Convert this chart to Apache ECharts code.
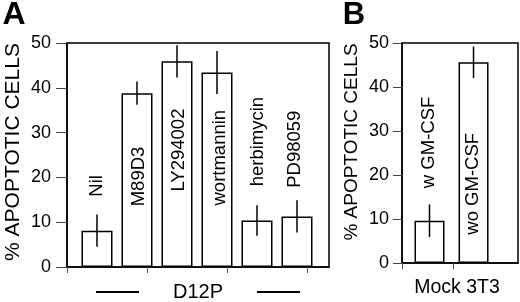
<!DOCTYPE html>
<html>
<head>
<meta charset="utf-8">
<script src="https://cdn.jsdelivr.net/npm/echarts@6/dist/echarts.min.js"></script>
<style>
html,body{margin:0;padding:0;background:#fff;}
#chart{width:520px;height:302px;}
</style>
</head>
<body>
<div id="chart"></div>
<script>
// ---- data ----
const catsA = ['Nil', 'M89D3', 'LY294002', 'wortmannin', 'herbimycin', 'PD98059'];
const valsA = [8.1, 38.8, 45.9, 43.4, 10.4, 11.3];
const errA = [3.6, 2.6, 3.6, 4.8, 3.4, 3.6];
const catsB = ['w GM-CSF', 'wo GM-CSF'];
const valsB = [9.6, 45.6];
const errB = [3.7, 3.6];
const yTicks = [0, 10, 20, 30, 40, 50];
const yTitle = '% APOPTOTIC CELLS';
const groupA = 'D12P';
const groupB = 'Mock 3T3';
const panelA = 'A';
const panelB = 'B';

// ---- layout (label centre heights, in axis units; small x nudges in px) ----
const labelMidA = [18.1, 20.2, 26.1, 24.4, 28.0, 26.3];
const labelDxA = [0, 2, 2, 3, 1, -2];
const labelMidB = [27.4, 18.0];
const labelDxB = [-1, -1];

const FONT = '"Liberation Sans", Arial, Helvetica, sans-serif';
const chart = echarts.init(document.getElementById('chart'), null, {renderer: 'canvas'});

function makeErr(vals, errs) {
  return function (params, api) {
    const i = params.dataIndex;
    const lo = api.coord([i, vals[i] - errs[i]]);
    const hi = api.coord([i, vals[i] + errs[i]]);
    return {
      type: 'line',
      shape: {x1: lo[0], y1: lo[1], x2: hi[0], y2: hi[1]},
      style: {stroke: '#000', lineWidth: 1.5}
    };
  };
}

function yAxisCfg(gridIndex, margin, tickLen) {
  return {
    type: 'value', gridIndex: gridIndex, min: 0, max: 50, interval: 10,
    axisLine: {show: true, onZero: false, lineStyle: {color: '#000', width: 1.5}},
    axisTick: {show: true, length: tickLen, lineStyle: {color: '#444', width: 1}},
    axisLabel: {show: true, margin: margin, fontSize: 18, color: '#000', fontFamily: FONT,
      formatter: v => yTicks.indexOf(v) >= 0 ? String(v) : ''},
    splitLine: {show: false}
  };
}

const option = {
  animation: false,
  backgroundColor: '#fff',
  grid: [
    {left: 67, top: 43, width: 262, height: 224, show: true, borderColor: '#000', borderWidth: 1.5, backgroundColor: 'transparent'},
    {left: 402, top: 43, width: 116, height: 220, show: true, borderColor: '#000', borderWidth: 1.5, backgroundColor: 'transparent'}
  ],
  xAxis: [
    {type: 'value', gridIndex: 0, min: -0.75, max: 5.8,
      axisLine: {show: true, onZero: false, lineStyle: {color: '#000', width: 1.5}},
      axisTick: {show: true, length: 6, lineStyle: {color: '#555'}, customValues: [-0.75, 1.25, 3.25, 5.25]},
      axisLabel: {show: false}, splitLine: {show: false}},
    {type: 'value', gridIndex: 1, min: -0.625, max: 2.01,
      axisLine: {show: true, onZero: false, lineStyle: {color: '#000', width: 1.5}},
      axisTick: {show: true, length: 6, lineStyle: {color: '#555'}, customValues: [-0.625, 0.55]},
      axisLabel: {show: false}, splitLine: {show: false}}
  ],
  yAxis: [yAxisCfg(0, 16, 11), yAxisCfg(1, 13, 9)],
  series: [
    {type: 'bar', xAxisIndex: 0, yAxisIndex: 0, barWidth: 31,
      data: valsA.map((v, i) => [i, v]),
      itemStyle: {color: '#fff', borderColor: '#000', borderWidth: 1.5}},
    {type: 'custom', xAxisIndex: 0, yAxisIndex: 0, renderItem: makeErr(valsA, errA), z: 5,
      data: valsA.map((v, i) => [i, v])},
    {type: 'bar', xAxisIndex: 1, yAxisIndex: 1, barWidth: 30,
      data: valsB.map((v, i) => [i, v]),
      itemStyle: {color: '#fff', borderColor: '#000', borderWidth: 1.5}},
    {type: 'custom', xAxisIndex: 1, yAxisIndex: 1, renderItem: makeErr(valsB, errB), z: 5,
      data: valsB.map((v, i) => [i, v])}
  ],
  graphic: [
    {type: 'text', x: 14, y: 15, style: {text: panelA, font: 'bold 32px ' + FONT, fill: '#000', align: 'center', verticalAlign: 'middle'}},
    {type: 'text', x: 354, y: 15, style: {text: panelB, font: 'bold 31px ' + FONT, fill: '#000', align: 'center', verticalAlign: 'middle'}},
    {type: 'text', x: 13, y: 152, rotation: Math.PI / 2, style: {text: yTitle, font: '21px ' + FONT, fill: '#000', align: 'center', verticalAlign: 'middle'}},
    {type: 'text', x: 352, y: 142, rotation: Math.PI / 2, style: {text: yTitle, font: '19px ' + FONT, fill: '#000', align: 'center', verticalAlign: 'middle'}},
    {type: 'text', x: 198, y: 292, style: {text: groupA, font: '20px ' + FONT, fill: '#000', align: 'center', verticalAlign: 'middle'}},
    {type: 'text', x: 457, y: 288, style: {text: groupB, font: '19.5px ' + FONT, fill: '#000', align: 'center', verticalAlign: 'middle'}},
    {type: 'line', shape: {x1: 96, y1: 292, x2: 139, y2: 292}, style: {stroke: '#000', lineWidth: 2}},
    {type: 'line', shape: {x1: 257, y1: 292, x2: 300, y2: 292}, style: {stroke: '#000', lineWidth: 2}}
  ]
};
chart.setOption(option);

// category labels (rotated text) placed through the axes' own scales
function catLabels(gridIndex, cats, mids, dxs) {
  return cats.map((c, i) => {
    const p = chart.convertToPixel({xAxisIndex: gridIndex, yAxisIndex: gridIndex}, [i, mids[i]]);
    return {type: 'text', x: p[0] + dxs[i], y: p[1], rotation: Math.PI / 2, z: 10,
      style: {text: c, font: '18.5px ' + FONT, fill: '#000', align: 'center', verticalAlign: 'middle'}};
  });
}
const extra = catLabels(0, catsA, labelMidA, labelDxA).concat(catLabels(1, catsB, labelMidB, labelDxB));
chart.setOption({graphic: option.graphic.concat(extra)});
</script>
</body>
</html>
